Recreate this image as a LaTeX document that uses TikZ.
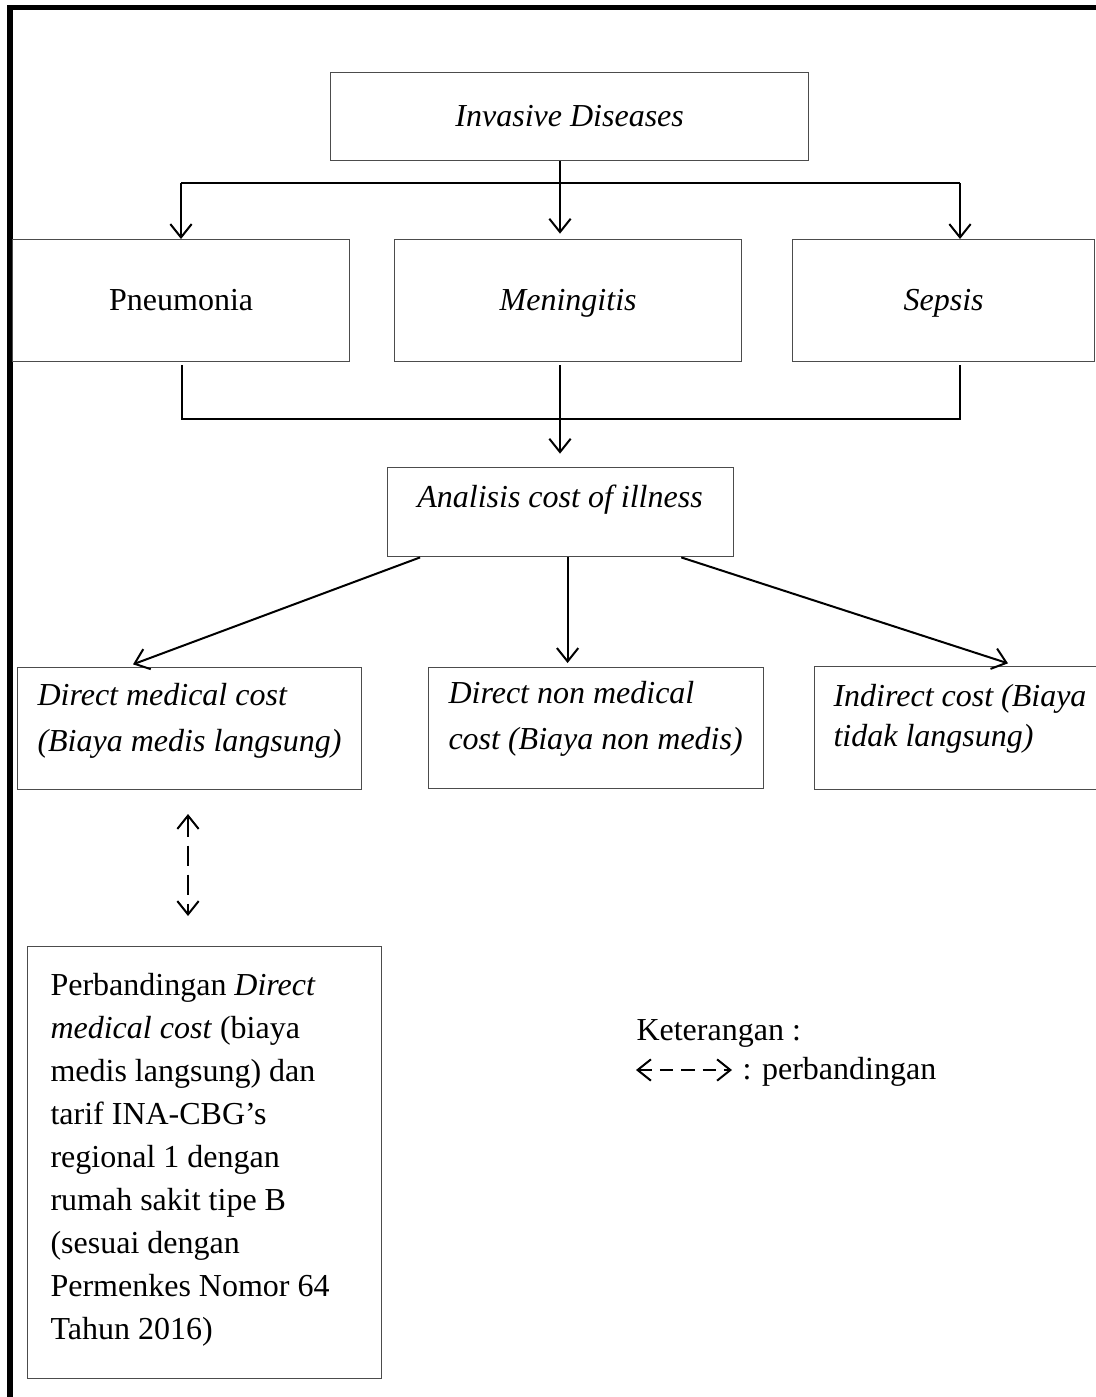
\documentclass[tikz,border=0pt]{standalone}
\usepackage{fontspec}
\setmainfont{Liberation Serif}
\usetikzlibrary{arrows.meta}
\begin{document}
\begin{tikzpicture}[x=0.375pt,y=-0.375pt,
  box/.style={draw=black!70, line width=0.5pt, inner sep=0pt, anchor=north west, text height=9pt, text depth=1.4pt, font=\fontsize{12}{15}\selectfont},
  conn/.style={line width=0.75pt, black},
  tip/.tip={Straight Barb[length=5pt,width=8pt,line width=0.75pt]},
  arr/.style={conn, -tip},
  darr/.style={conn, tip-tip, dash pattern=on 7.5pt off 3.4pt},
  ltxt/.style={inner sep=0pt, anchor=base west, align=left}]
\useasboundingbox (0,0) rectangle (1096,1397);
\clip (0,0) rectangle (1096,1397);
% frame
\draw[line width=1.9pt, line join=miter] (10,1500) -- (10,7.5) -- (1200,7.5);
% boxes
\node[box, minimum width=179.25pt, minimum height=33pt] (top) at (330,72) {\itshape Invasive Diseases};
\node[box, minimum width=126.4pt, minimum height=45.75pt] (pneu) at (12,239) {Pneumonia};
\node[box, minimum width=130.1pt, minimum height=45.75pt] (men) at (394,239) {\itshape Meningitis};
\node[box, minimum width=113.25pt, minimum height=45.75pt] (sep) at (792,239) {\itshape Sepsis};
\node[box, minimum width=129.75pt, minimum height=33.4pt] (ana) at (387,467) {};
\node[ltxt, anchor=base, font=\fontsize{12}{15}\selectfont\itshape] (anat) at (560,507) {Analisis cost of illness};
\node[box, minimum width=129pt, minimum height=45.75pt] (dmc) at (17,667) {};
\node[box, minimum width=125.6pt, minimum height=45.4pt] (dnm) at (428,667) {};
\node[box, minimum width=112.5pt, minimum height=46.1pt] (ind) at (814,666) {};
\node[box, minimum width=132.75pt, minimum height=162pt] (perb) at (27,946) {};
% texts in boxes (base = baseline of last line)
\node[ltxt, font=\fontsize{12}{16.9}\selectfont\itshape] (dmct) at (37,751) {Direct medical cost\\(Biaya medis langsung)};
\node[ltxt, font=\fontsize{12}{16.9}\selectfont\itshape] (dnmt) at (448,749) {Direct non medical\\cost (Biaya non medis)};
\node[ltxt, font=\fontsize{12}{15}\selectfont\itshape] (indt) at (833,746) {Indirect cost (Biaya\\tidak langsung)};
\node[ltxt, font=\fontsize{12}{16.1}\selectfont] (perbt) at (50,1339) {Perbandingan \textit{Direct}\\\textit{medical cost} (biaya\\medis langsung) dan\\tarif INA-CBG’s\\regional 1 dengan\\rumah sakit tipe B\\(sesuai dengan\\Permenkes Nomor 64\\Tahun 2016)};
% connectors top
\coordinate (h1L) at (181,183);
\coordinate (h1M) at (560,183);
\coordinate (h1R) at (960,183);
\draw[conn] (h1L) -- (h1R);
\draw[conn] (top.south -| h1M) -- (h1M);
\draw[arr] (h1L) -- (h1L |- pneu.north);
\draw[arr] (h1M) -- ([yshift=2pt]h1M |- men.north);
\draw[arr] (h1R) -- (h1R |- sep.north);
% connectors bottom
\coordinate (h2L) at (182,419);
\coordinate (h2M) at (560,419);
\coordinate (h2R) at (960,419);
\draw[conn] ([yshift=-1pt]pneu.south -| h2L) -- (h2L) -- (h2R) -- ([yshift=-1pt]sep.south -| h2R);
\draw[arr] ([yshift=-1pt]men.south -| h2M) -- ([yshift=5pt]h2M |- ana.north);
% from analisis
\coordinate (am) at ([xshift=2.6pt]ana.south);
\draw[arr] ([xshift=12.4pt]ana.south west) -- ([xshift=43.5pt,yshift=1pt]dmc.north west);
\draw[arr] (am) -- ([yshift=1.5pt]am |- dnm.north);
\draw[arr] ([xshift=-19.9pt]ana.south east) -- ([xshift=72.75pt,yshift=1pt]ind.north west);
% dashed comparison
\coordinate (d1) at (188,814);
\coordinate (d2) at (188,916);
\draw[darr] (d1) -- (d2);
% legend
\node[ltxt, font=\fontsize{12}{15}\selectfont] (ket) at (636,1040) {Keterangan :};
\coordinate (l1) at (636,1070);
\coordinate (l2) at (732,1070);
\draw[conn, tip-tip, dash pattern=on 5pt off 3pt] (l1) -- (l2);
\node[ltxt, font=\fontsize{12}{15}\selectfont] (ketp) at (742,1079) {: perbandingan};
\end{tikzpicture}
\end{document}
